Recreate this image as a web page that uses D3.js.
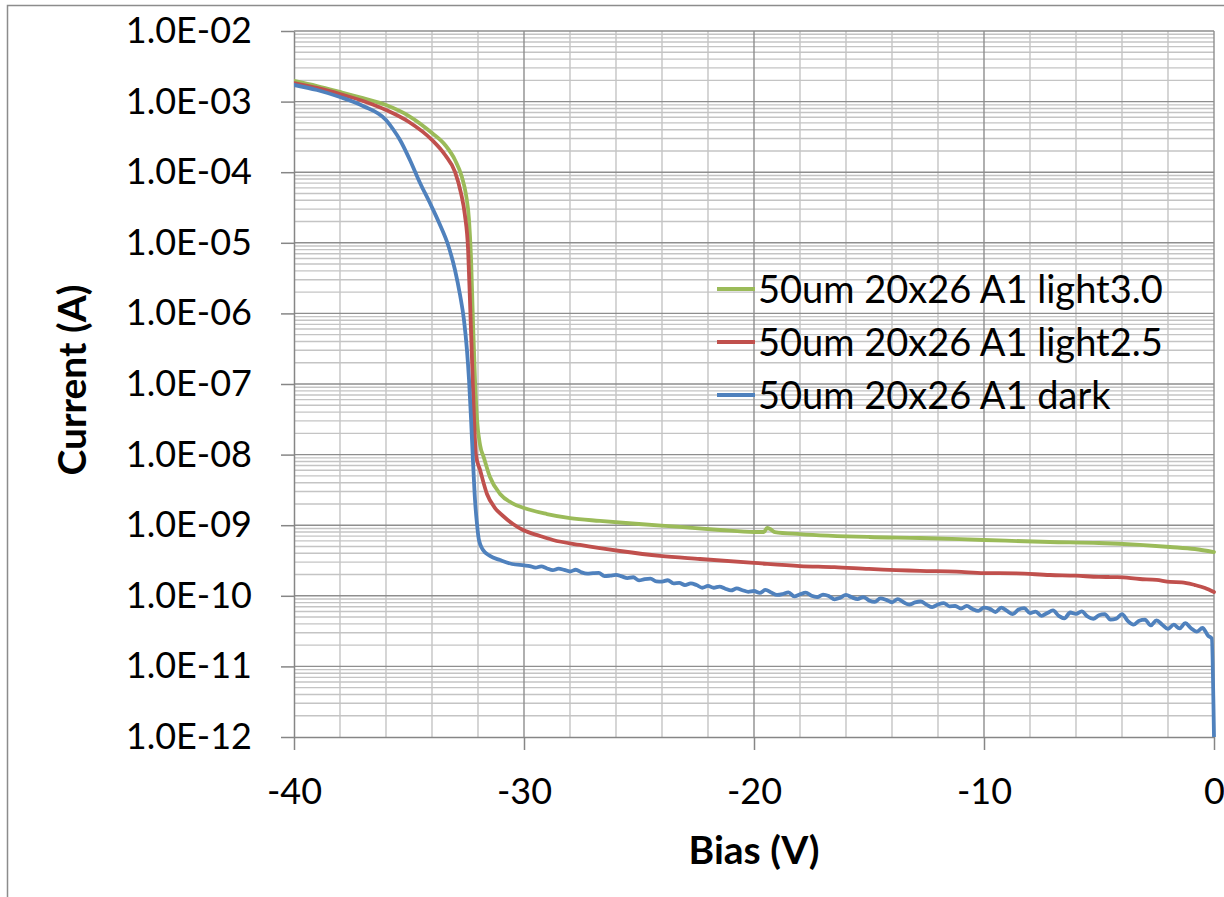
<!DOCTYPE html>
<html>
<head>
<meta charset="utf-8">
<script src="https://cdn.jsdelivr.net/npm/d3@7"></script>
<style>
  html, body { margin: 0; padding: 0; background: #fff; }
  svg { display: block; }
</style>
</head>
<body>
<svg id="chart" width="1224" height="897"></svg>
<script>
// ---------------- DATA ----------------
const seriesNames = ["50um 20x26 A1 light3.0", "50um 20x26 A1 light2.5", "50um 20x26 A1 dark"];
const xTickValues = [-40, -30, -20, -10, 0];
const xTickLabels = ["-40", "-30", "-20", "-10", "0"];
const yTickValues = [1e-2, 1e-3, 1e-4, 1e-5, 1e-6, 1e-7, 1e-8, 1e-9, 1e-10, 1e-11, 1e-12];
const yTickLabels = ["1.0E-02", "1.0E-03", "1.0E-04", "1.0E-05", "1.0E-06", "1.0E-07", "1.0E-08", "1.0E-09", "1.0E-10", "1.0E-11", "1.0E-12"];
const xTitle = "Bias (V)";
const yTitle = "Current (A)";

// [bias V, current A]
const light30 = [
  [-40, 1.96e-3], [-39, 1.66e-3], [-38, 1.37e-3], [-37, 1.12e-3], [-36, 8.95e-4], [-35, 6.25e-4],
  [-34, 3.59e-4], [-33.43, 2.43e-4], [-33.0, 1.49e-4], [-32.70, 8.55e-5], [-32.52, 4.75e-5],
  [-32.39, 2.10e-5], [-32.30, 5.70e-6], [-32.22, 8.07e-7], [-32.13, 1.14e-7], [-32.04, 3.09e-8],
  [-31.91, 1.37e-8], [-31.74, 8.95e-9], [-31.48, 4.82e-9], [-31.04, 2.77e-9], [-30.52, 2.06e-9],
  [-30.0, 1.75e-9], [-29.0, 1.44e-9], [-28.0, 1.26e-9], [-26.7, 1.15e-9], [-25.0, 1.04e-9],
  [-23.22, 9.44e-10], [-21.48, 8.55e-10], [-20.0, 8.01e-10], [-19.57, 8.01e-10], [-19.43, 9.12e-10],
  [-19.30, 8.83e-10], [-19.09, 8.01e-10], [-18.0, 7.50e-10], [-15.0, 6.81e-10], [-12.78, 6.59e-10],
  [-10.0, 6.17e-10], [-7.13, 5.78e-10], [-5.0, 5.60e-10], [-3.22, 5.25e-10], [-1.91, 4.91e-10],
  [-0.83, 4.60e-10], [0, 4.17e-10]
];
const light25 = [
  [-40, 1.83e-3], [-39, 1.56e-3], [-38, 1.28e-3], [-37, 1.02e-3], [-36, 7.60e-4], [-35, 5.14e-4],
  [-34, 2.86e-4], [-33.43, 1.75e-4], [-33.0, 1.01e-4], [-32.74, 5.07e-5], [-32.57, 2.48e-5],
  [-32.43, 7.91e-6], [-32.35, 1.55e-6], [-32.26, 2.19e-7], [-32.17, 3.09e-8], [-32.09, 9.86e-9],
  [-31.91, 6.05e-9], [-31.61, 2.77e-9], [-31.26, 1.75e-9], [-30.91, 1.35e-9], [-30.48, 1.04e-9],
  [-30.04, 8.55e-10], [-29.30, 7.03e-10], [-28.74, 6.17e-10], [-27.57, 5.25e-10], [-25.83, 4.31e-10],
  [-24.09, 3.67e-10], [-22.35, 3.32e-10], [-20.0, 2.92e-10], [-18.0, 2.64e-10], [-16.5, 2.55e-10],
  [-15.0, 2.40e-10], [-12.78, 2.25e-10], [-11.2, 2.20e-10], [-10.0, 2.10e-10], [-8.6, 2.08e-10],
  [-7.13, 1.97e-10], [-6.0, 1.93e-10], [-5.0, 1.85e-10], [-4.2, 1.84e-10], [-3.22, 1.73e-10],
  [-2.5, 1.68e-10], [-1.91, 1.57e-10], [-1.4, 1.55e-10], [-0.83, 1.42e-10], [-0.39, 1.29e-10],
  [0, 1.13e-10]
];
const dark = [
  [-40, 1.72e-3], [-39, 1.46e-3], [-38, 1.16e-3], [-37, 8.67e-4], [-36, 5.48e-4], [-35.7, 4.09e-4],
  [-35.39, 2.86e-4], [-34.96, 1.49e-4], [-34.52, 7.03e-5], [-34.09, 3.66e-5], [-33.65, 1.79e-5],
  [-33.30, 9.31e-6], [-33.0, 4.12e-6], [-32.78, 1.82e-6], [-32.61, 8.07e-7], [-32.48, 3.03e-7],
  [-32.39, 1.14e-7], [-32.30, 3.09e-8], [-32.22, 8.39e-9], [-32.13, 2.28e-9], [-32.04, 1.01e-9],
  [-31.96, 6.17e-10], [-31.78, 4.45e-10], [-31.48, 3.67e-10], [-31.04, 3.21e-10], [-30.52, 2.82e-10],
  [-30.0, 2.70e-10],
  [-29.75, 2.64e-10], [-29.5, 2.51e-10], [-29.25, 2.61e-10], [-29.0, 2.44e-10], [-28.75, 2.31e-10],
  [-28.5, 2.42e-10], [-28.25, 2.33e-10], [-28.0, 2.21e-10], [-27.75, 2.34e-10], [-27.5, 2.15e-10],
  [-27.25, 2.06e-10], [-27.0, 2.09e-10], [-26.75, 2.11e-10], [-26.5, 1.90e-10], [-26.25, 1.93e-10],
  [-26.0, 1.98e-10], [-25.75, 1.88e-10], [-25.5, 1.78e-10], [-25.25, 1.83e-10], [-25.0, 1.65e-10],
  [-24.75, 1.72e-10], [-24.5, 1.75e-10], [-24.25, 1.60e-10], [-24.0, 1.59e-10], [-23.75, 1.66e-10],
  [-23.5, 1.50e-10], [-23.25, 1.52e-10], [-23.0, 1.42e-10], [-22.75, 1.50e-10], [-22.5, 1.42e-10],
  [-22.25, 1.30e-10], [-22.0, 1.38e-10], [-21.75, 1.30e-10], [-21.5, 1.35e-10], [-21.25, 1.26e-10],
  [-21.0, 1.19e-10], [-20.75, 1.27e-10], [-20.5, 1.20e-10], [-20.25, 1.14e-10], [-20.0, 1.17e-10],
  [-19.75, 1.10e-10], [-19.5, 1.21e-10], [-19.25, 1.11e-10], [-19.0, 1.03e-10], [-18.75, 1.06e-10],
  [-18.5, 1.12e-10], [-18.25, 0.98e-10], [-18.0, 1.05e-10], [-17.75, 1.11e-10], [-17.5, 1.00e-10],
  [-17.25, 0.96e-10], [-17.0, 1.04e-10], [-16.75, 0.995e-10], [-16.5, 0.89e-10], [-16.25, 0.94e-10],
  [-16.0, 1.03e-10], [-15.75, 0.952e-10], [-15.5, 0.90e-10], [-15.25, 0.96e-10], [-15.0, 0.86e-10],
  [-14.75, 0.82e-10], [-14.5, 0.92e-10], [-14.25, 0.875e-10], [-14.0, 0.81e-10], [-13.75, 0.90e-10],
  [-13.5, 0.81e-10], [-13.25, 0.75e-10], [-13.0, 0.805e-10], [-12.75, 0.83e-10], [-12.5, 0.75e-10],
  [-12.25, 0.69e-10], [-12.0, 0.753e-10], [-11.75, 0.79e-10], [-11.5, 0.71e-10], [-11.25, 0.717e-10],
  [-11.0, 0.66e-10], [-10.75, 0.72e-10], [-10.5, 0.65e-10], [-10.25, 0.61e-10], [-10.0, 0.68e-10],
  [-9.75, 0.653e-10], [-9.5, 0.59e-10], [-9.25, 0.68e-10], [-9.0, 0.61e-10], [-8.75, 0.55e-10],
  [-8.5, 0.64e-10], [-8.25, 0.67e-10], [-8.0, 0.57e-10], [-7.75, 0.598e-10], [-7.5, 0.52e-10],
  [-7.25, 0.57e-10], [-7.0, 0.62e-10], [-6.75, 0.52e-10], [-6.5, 0.48e-10], [-6.25, 0.58e-10],
  [-6.0, 0.554e-10], [-5.75, 0.60e-10], [-5.5, 0.51e-10], [-5.25, 0.47e-10], [-5.0, 0.53e-10],
  [-4.75, 0.55e-10], [-4.5, 0.46e-10], [-4.25, 0.475e-10], [-4.0, 0.55e-10], [-3.75, 0.44e-10],
  [-3.5, 0.39e-10], [-3.25, 0.444e-10], [-3.0, 0.46e-10], [-2.75, 0.38e-10], [-2.5, 0.45e-10],
  [-2.25, 0.39e-10], [-2.0, 0.34e-10], [-1.75, 0.39e-10], [-1.5, 0.345e-10], [-1.25, 0.41e-10],
  [-1.0, 0.348e-10], [-0.75, 0.31e-10], [-0.5, 0.35e-10], [-0.25, 0.27e-10], [-0.1, 0.25e-10],
  [0, 1e-12]
];
const seriesData = [light30, light25, dark];
const seriesColors = ["#9BBB59", "#C0504D", "#4F81BD"];

// ---------------- CHART ----------------
const svg = d3.select("#chart");
const font = "Lato, 'Open Sans', sans-serif";
const plot = { left: 294, right: 1214, top: 31, bottom: 737 };

const x = d3.scaleLinear().domain([-40, 0]).range([plot.left, plot.right]);
const y = d3.scaleLog().domain([1e-12, 1e-2]).range([plot.bottom, plot.top]);

// outer chart frame
svg.append("rect")
  .attr("x", 7.5).attr("y", 5.5).attr("width", 1400).attr("height", 1200)
  .attr("fill", "#fff").attr("stroke", "#8c8c8c").attr("stroke-width", 1.5);

// gridlines
const grid = svg.append("g");
const minorX = d3.range(-38, 0, 2).filter(v => v % 10 !== 0);
const majorX = [-30, -20, -10, 0];
const minorY = [];
for (let e = -12; e < -2; e++) for (let k = 2; k <= 9; k++) minorY.push(k * Math.pow(10, e));
const majorY = yTickValues.filter(v => v > 1e-12);

grid.selectAll(".mx").data(minorX).join("line")
  .attr("x1", d => x(d)).attr("x2", d => x(d)).attr("y1", plot.top).attr("y2", plot.bottom)
  .attr("stroke", "#c4c4c4").attr("stroke-width", 1.4);
grid.selectAll(".my").data(minorY).join("line")
  .attr("x1", plot.left).attr("x2", plot.right).attr("y1", d => y(d)).attr("y2", d => y(d))
  .attr("stroke", "#c4c4c4").attr("stroke-width", 1.4);
grid.selectAll(".Mx").data(majorX).join("line")
  .attr("x1", d => x(d)).attr("x2", d => x(d)).attr("y1", plot.top).attr("y2", plot.bottom)
  .attr("stroke", "#8e8e8e").attr("stroke-width", 1.4);
grid.selectAll(".My").data(majorY).join("line")
  .attr("x1", plot.left).attr("x2", plot.right).attr("y1", d => y(d)).attr("y2", d => y(d))
  .attr("stroke", "#8e8e8e").attr("stroke-width", 1.4);

// axes
const xAxis = d3.axisBottom(x).tickValues(xTickValues).tickFormat((d, i) => xTickLabels[i])
  .tickSize(13).tickSizeOuter(0).tickPadding(28);
const yAxis = d3.axisLeft(y).tickValues(yTickValues).tickFormat((d, i) => yTickLabels[i])
  .tickSize(13).tickSizeOuter(0).tickPadding(29);

const gx = svg.append("g").attr("transform", `translate(0,${plot.bottom})`).call(xAxis);
const gy = svg.append("g").attr("transform", `translate(${plot.left},0)`).call(yAxis);
[gx, gy].forEach(g => {
  g.select(".domain").attr("stroke", "#868686").attr("stroke-width", 1.5);
  g.selectAll(".tick line").attr("stroke", "#868686").attr("stroke-width", 1.5);
  g.selectAll(".tick text").attr("font-family", font).attr("font-size", 36).attr("fill", "#000");
});

// series
const clipId = "plotclip";
svg.append("clipPath").attr("id", clipId).append("rect")
  .attr("x", plot.left).attr("y", plot.top - 2)
  .attr("width", plot.right - plot.left + 3).attr("height", plot.bottom - plot.top + 2);

const lineGen = d3.line().x(d => x(d[0])).y(d => y(d[1])).curve(d3.curveMonotoneX);
const gs = svg.append("g").attr("clip-path", `url(#${clipId})`);
seriesData.forEach((data, i) => {
  gs.append("path").datum(data)
    .attr("d", lineGen)
    .attr("fill", "none")
    .attr("stroke", seriesColors[i])
    .attr("stroke-width", 3.8)
    .attr("stroke-linejoin", "round")
    .attr("stroke-linecap", "round");
});

// legend
const legend = svg.append("g");
const legendY = [289, 342, 395];
seriesNames.forEach((name, i) => {
  legend.append("line")
    .attr("x1", 717).attr("x2", 755).attr("y1", legendY[i]).attr("y2", legendY[i])
    .attr("stroke", seriesColors[i]).attr("stroke-width", 3.8);
  legend.append("text")
    .attr("x", 758).attr("y", legendY[i]).attr("dy", "0.36em")
    .attr("font-family", font).attr("font-size", 38).attr("fill", "#000")
    .text(name);
});

// axis titles
svg.append("text")
  .attr("x", (plot.left + plot.right) / 2).attr("y", 850).attr("dy", "0.36em")
  .attr("text-anchor", "middle").attr("font-family", font).attr("font-weight", "bold")
  .attr("font-size", 39).attr("fill", "#000").text(xTitle);
svg.append("text")
  .attr("transform", `translate(72,380) rotate(-90)`)
  .attr("dy", "0.36em")
  .attr("text-anchor", "middle").attr("font-family", font).attr("font-weight", "bold")
  .attr("font-size", 39).attr("fill", "#000").text(yTitle);
</script>
</body>
</html>
